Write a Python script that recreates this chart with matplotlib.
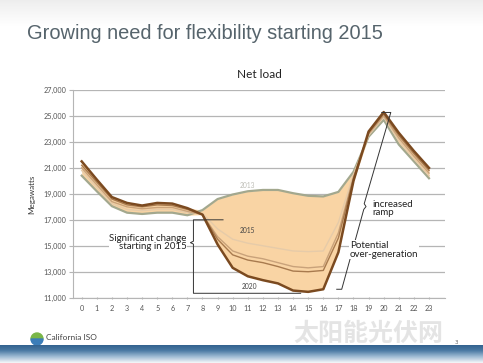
import numpy as np
import matplotlib.pyplot as plt
from matplotlib.patches import Wedge
from matplotlib.colors import LinearSegmentedColormap

hours = list(range(24))

# net load in MW
load_2013 = [20400, 19200, 18050, 17550, 17450, 17550, 17550, 17350, 17750, 18600, 18950, 19200,
             19300, 19300, 19050, 18850, 18800, 19150, 20700, 23400, 24700, 22800, 21500, 20200]
load_2015 = [20800, 19500, 18250, 17800, 17700, 17800, 17800, 17550, 17500, 16300, 15500, 15200,
             15000, 14800, 14600, 14550, 14600, 16800, 20500, 23500, 24900, 23100, 21700, 20400]
load_2017 = [21000, 19700, 18400, 18000, 17850, 17950, 17950, 17650, 17400, 15700, 14600, 14200,
             14000, 13700, 13400, 13300, 13400, 16000, 20300, 23600, 25000, 23300, 21900, 20600]
load_2018 = [21200, 19900, 18600, 18150, 18000, 18150, 18100, 17800, 17400, 15500, 14300, 13900,
             13700, 13400, 13050, 13000, 13100, 15600, 20200, 23700, 25150, 23500, 22100, 20800]
load_2020 = [21500, 20100, 18750, 18300, 18100, 18300, 18250, 17900, 17400, 15100, 13300, 12650,
             12350, 12100, 11550, 11450, 11650, 14500, 20000, 23800, 25300, 23700, 22300, 21000]

series = [load_2013, load_2015, load_2017, load_2018, load_2020]
colors = ['#a3a88e', '#e6cba9', '#c9a27a', '#a87a4e', '#7b4a20']
widths = [1.6, 1.0, 1.0, 1.0, 1.8]

yticks = list(range(11000, 27001, 2000))
ytick_labels = ['{:,}'.format(v) for v in yticks]

fig = plt.figure(figsize=(4.83, 3.63), dpi=100)
fig.patch.set_facecolor('white')

# slide decoration: faint grey band on top, blue band at the bottom
top = fig.add_axes([0, 0.925, 1, 0.075])
top.imshow(np.linspace(1, 0, 20).reshape(-1, 1), cmap='Greys', vmin=0, vmax=7,
           aspect='auto', extent=[0, 1, 0, 1])
top.axis('off')
band = LinearSegmentedColormap.from_list('band', ['#f2f5f8', '#9fbbd4', '#4a79a3', '#2f5f8c'])
bot = fig.add_axes([0, 0, 1, 0.05])
bot.imshow(np.linspace(1, 0, 30).reshape(-1, 1), cmap=band, vmin=0, vmax=1,
           aspect='auto', extent=[0, 1, 0, 1])
bot.axis('off')

fig.text(0.056, 0.907, 'Growing need for flexibility starting 2015', fontsize=14.4,
         color='#56646c', family='Liberation Sans', va='center')

ax = fig.add_axes([73 / 483, 1 - 297.7 / 363, (445 - 73) / 483, (297.7 - 90) / 363])
ax.set_xlim(-0.576, 24.06)
ax.set_ylim(11000, 27000)

lo = np.min(series, axis=0)
hi = np.max(series, axis=0)
ax.fill_between(hours, lo, hi, color='#f9d4a4', lw=0, zorder=2)
for s, c, w in zip(series, colors, widths):
    ax.plot(hours, s, color=c, lw=w, zorder=3, solid_joinstyle='round')

ax.set_yticks(yticks)
ax.set_yticklabels(ytick_labels)
ax.set_xticks(hours)
ax.grid(axis='y', color='#b5b5b5', lw=0.9, zorder=1)
for sp in ['top', 'right']:
    ax.spines[sp].set_visible(False)
ax.spines['left'].set_color('#b5b5b5')
ax.spines['bottom'].set_color('#b5b5b5')
ax.tick_params(axis='y', length=3, color='#b5b5b5', labelsize=5.2, labelcolor='#555555', pad=2)
ax.tick_params(axis='x', length=2, direction='inout', color='#b5b5b5', labelsize=5.2,
               labelcolor='#555555', pad=4)
for lab in ax.get_xticklabels() + ax.get_yticklabels():
    lab.set_family('Lato')
ax.set_ylabel('Megawatts', fontsize=5.8, color='#333333', family='Lato', labelpad=6)
ax.set_title('Net load', fontsize=8.5, color='#222222', family='Lato', pad=9)

# year labels
ax.text(11.0, 19650, '2013', fontsize=4.8, color='#bdbdb6', ha='center', va='center', family='Lato', zorder=4)
ax.text(11.0, 16150, '2015', fontsize=4.8, color='#444444', ha='center', va='center', family='Lato', zorder=4)
ax.text(11.1, 11850, '2020', fontsize=4.8, color='#444444', ha='center', va='center', family='Lato', zorder=4)

# bracket for significant change
bk = dict(color='#333333', lw=0.7, zorder=5, clip_on=False)
ax.plot([9.36, 7.4, 7.4, 7.2, 7.4, 7.4, 14.5], [17000, 17000, 15350, 15240, 15130, 11340, 11340], **bk)
ax.text(6.95, 15250, 'Significant change\nstarting in 2015', fontsize=7, ha='right', va='center',
        family='Lato', color='#222222', linespacing=0.95, zorder=6,
        bbox=dict(facecolor='white', edgecolor='none', pad=0.5))

# ramp bracket
ax.plot([16.89, 17.22, 18.68, 18.83, 18.71, 20.47, 19.87],
        [11650, 11650, 17800, 18020, 18240, 25270, 25270], **bk)
ax.text(19.27, 17860, 'increased\nramp', fontsize=7, ha='left', va='center', family='Lato',
        color='#222222', linespacing=0.95, zorder=6,
        bbox=dict(facecolor='white', edgecolor='none', pad=0.5))
ax.text(17.77, 14680, 'Potential\nover-generation', fontsize=7, ha='left', va='center', family='Lato',
        color='#222222', linespacing=0.95, zorder=6,
        bbox=dict(facecolor='white', edgecolor='none', pad=0.5))

# logo and footer
logo = fig.add_axes([0, 0, 1, 1], zorder=-1)
logo.set_xlim(0, 483)
logo.set_ylim(363, 0)
logo.axis('off')
logo.add_patch(Wedge((37, 339), 6, 180, 360, color='#7ab648'))
logo.add_patch(Wedge((37, 339), 6, 0, 180, color='#3b7db8'))
logo.text(46, 338, 'California ISO', fontsize=6, color='#444444', family='Lato', va='center')
logo.text(293, 334, '太阳能光伏网', fontsize=18, color='#e2e2e2', weight='bold',
          family=['Noto Sans CJK SC', 'DejaVu Sans'], va='center', alpha=0.9)
logo.text(455, 342, '3', fontsize=4, color='#666666', va='center')

fig.savefig('out.png', dpi=100)
